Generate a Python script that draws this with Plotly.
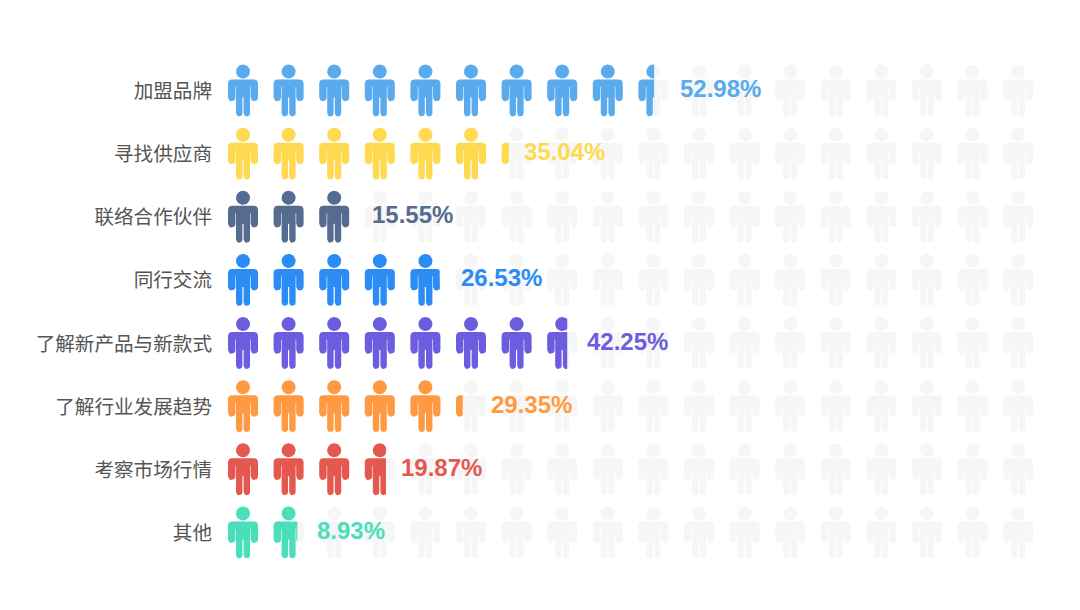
import numpy as np
import plotly.graph_objects as go

categories = ["加盟品牌", "寻找供应商", "联络合作伙伴", "同行交流", "了解新产品与新款式", "了解行业发展趋势", "考察市场行情", "其他"]
values = [52.98, 35.04, 15.55, 26.53, 42.25, 29.35, 19.87, 8.93]
colors = ["#5AAAEE", "#FFD94F", "#566B90", "#2B8CF6", "#6C5CE0", "#FF9A42", "#E4584F", "#4ADFBA"]
label_gaps = [24, 13, 19, 19, 18, 26, 13, 18]

ICON_COUNT = 18
PLOT_L, PLOT_R, PLOT_T, ROW_PX = 225, 1035, 59, 63.1
PX_PER_UNIT = (PLOT_R - PLOT_L) / 100
ICON_PITCH, ICON_START = 45.6, 3.0
ICON_W, ICON_H = 30.0, 52.0


def arc(cx, cy, r, a0, a1, n=8):
    t = np.radians(np.linspace(a0, a1, n))
    return [(cx + r * np.cos(v), cy + r * np.sin(v)) for v in t]


def body_outline():
    p = []
    p += arc(3.6, 18.6, 3.6, 270, 180)              # left shoulder
    p += arc(3.7, 33.0, 3.7, 180, 0)                # left arm end
    p += [(7.4, 22.5), (8.0, 22.5)]
    p += arc(11.2, 48.8, 3.2, 180, 0)               # left leg
    p += [(14.4, 33.0), (15.6, 33.0)]
    p += arc(18.8, 48.8, 3.2, 180, 0)               # right leg
    p += [(22.0, 22.5), (22.6, 22.5)]
    p += arc(26.3, 33.0, 3.7, 180, 0)               # right arm end
    p += arc(26.4, 18.6, 3.6, 0, -90)               # right shoulder
    return p


def head_outline():
    return arc(15.0, 7.0, 7.0, 0, 360, 32)[:-1]


def clip_right(poly, xmax):
    out = []
    for i, (x0, y0) in enumerate(poly):
        x1, y1 = poly[(i + 1) % len(poly)]
        in0, in1 = x0 <= xmax, x1 <= xmax
        if in0:
            out.append((x0, y0))
        if in0 != in1:
            t = (xmax - x0) / (x1 - x0)
            out.append((xmax, y0 + t * (y1 - y0)))
    return out


def row_shape(row, limit_value):
    xs, ys = [], []
    for i in range(ICON_COUNT):
        left_px = ICON_START + i * ICON_PITCH
        for poly in (body_outline(), head_outline()):
            pts = [(left_px + x, y) for x, y in poly]
            pts = clip_right(pts, limit_value * PX_PER_UNIT)
            if not pts:
                continue
            xs += [x / PX_PER_UNIT for x, _ in pts] + [pts[0][0] / PX_PER_UNIT, None]
            ys += [row + (y - ICON_H / 2) / ROW_PX for _, y in pts] + [row + (pts[0][1] - ICON_H / 2) / ROW_PX, None]
    return xs, ys


fig = go.Figure()
for r in range(len(categories)):
    x, y = row_shape(r, 100)
    fig.add_trace(go.Scatter(x=x, y=y, mode="lines", fill="toself", fillcolor="#F6F6F6",
                             line=dict(width=0, color="#F6F6F6"), hoverinfo="skip", showlegend=False))
for r, (v, c) in enumerate(zip(values, colors)):
    x, y = row_shape(r, v)
    fig.add_trace(go.Scatter(x=x, y=y, mode="lines", fill="toself", fillcolor=c,
                             line=dict(width=0, color=c), hoverinfo="skip", showlegend=False))

annotations = [
    dict(x=v, y=r, xref="x", yref="y", text=f"<b>{v:.2f}%</b>", showarrow=False, xanchor="left",
         xshift=g, yshift=2, font=dict(family="Liberation Sans", size=24, color=c))
    for r, (v, c, g) in enumerate(zip(values, colors, label_gaps))
]

fig.update_layout(
    width=1080, height=610, paper_bgcolor="white", plot_bgcolor="white",
    margin=dict(l=PLOT_L, r=1080 - PLOT_R, t=PLOT_T, b=610 - PLOT_T - ROW_PX * len(categories), pad=0),
    xaxis=dict(range=[0, 100], visible=False, fixedrange=True),
    yaxis=dict(range=[len(categories) - 0.5, -0.5], tickmode="array",
               tickvals=[r + 0.01 for r in range(len(categories))],
               ticktext=categories, showgrid=False, zeroline=False, showline=False, ticks="",
               ticklabelstandoff=12, fixedrange=True,
               tickfont=dict(family="Noto Sans CJK SC", size=19.6, color="#555555")),
    annotations=annotations, showlegend=False, hovermode=False,
)
fig.write_html("out.html", config=dict(displayModeBar=False),
               post_script="document.body.style.margin='0';document.documentElement.style.overflow='hidden';")
